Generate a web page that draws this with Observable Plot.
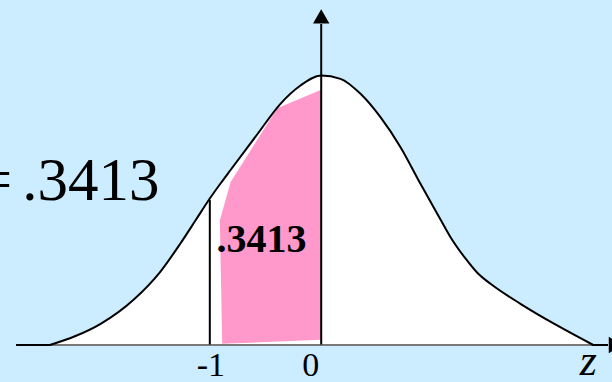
<!DOCTYPE html>
<html><head><meta charset="utf-8">
<script src="https://cdn.jsdelivr.net/npm/d3@7"></script>
<script src="https://cdn.jsdelivr.net/npm/@observablehq/plot@0.6"></script>
<style>html,body{margin:0;padding:0;background:#CCECFF;overflow:hidden}</style>
</head><body><div id="chart"></div>
<script>
// Bell curve (z units, density)
const curveZ = [-2.436, -2.206, -1.980, -1.682, -1.443, -1.264, -1.129, -1.000, -0.904, -0.814, -0.575, -0.366, -0.186, 0.000, 0.173, 0.353, 0.532, 0.712, 0.891, 1.071, 1.161, 1.295, 1.403, 1.520, 1.789, 2.118, 2.442];
const curveDensity = [0.0000, 0.0133, 0.0314, 0.0674, 0.1088, 0.1503, 0.1843, 0.2169, 0.2391, 0.2591, 0.3117, 0.3571, 0.3842, 0.3990, 0.3941, 0.3719, 0.3373, 0.2929, 0.2387, 0.1858, 0.1596, 0.1281, 0.1066, 0.0906, 0.0610, 0.0289, 0.0000];
// Pink shaded region between z = -1 and z = 0
const shadeZ = [0.000, -0.395, -0.814, -0.910, -0.889, 0.000];
const shadeDensity = [0.3779, 0.3506, 0.2410, 0.1843, 0.0018, 0.0077];
// Axis extents and markers
const axisStartZ = -2.735;
const axisEndZ = 2.579;
const markerZ = -1;
const markerTop = 0.214;
const verticalAxisTop = 0.4745;
const tickValues = [-1, 0];
const tickLabels = ["-1", "0"];
const probabilityText = ".3413";
const equalsText = "=";
const axisLabel = "z";

const curve = curveZ.map((z, i) => ({z, d: curveDensity[i]}));
const shade = shadeZ.map((z, i) => ({z, d: shadeDensity[i]}));
const arrowHeads = [
  {z: 0, d: 0.4831, rotate: 0},
  {z: 2.624, d: 0, rotate: 90}
];
const font = "'Liberation Serif', 'Times New Roman', serif";

const chart = Plot.plot({
  width: 612,
  height: 382,
  margin: 0,
  x: {domain: [-2.879, 2.615], axis: null},
  y: {domain: [-0.05552, 0.51007], axis: null},
  style: {background: "#CCECFF", overflow: "visible"},
  marks: [
    Plot.areaY(curve, {x: "z", y: "d", fill: "white", curve: "monotone-x"}),
    Plot.line(shade, {x: "z", y: "d", fill: "#FF99CC", stroke: "none"}),
    Plot.ruleY([0], {x1: curveZ[0], x2: curveZ[curveZ.length - 1], stroke: "#7a7a7a", strokeWidth: 2}),
    Plot.ruleY([0], {x1: axisStartZ, x2: curveZ[0], stroke: "black", strokeWidth: 2}),
    Plot.ruleY([0], {x1: curveZ[curveZ.length - 1], x2: axisEndZ, stroke: "black", strokeWidth: 2}),
    Plot.line(curve, {x: "z", y: "d", stroke: "black", strokeWidth: 2, curve: "monotone-x"}),
    Plot.ruleX([markerZ], {y1: 0, y2: markerTop, stroke: "black", strokeWidth: 2}),
    Plot.ruleX([0], {y1: 0, y2: verticalAxisTop, stroke: "black", strokeWidth: 2}),
    Plot.dot(arrowHeads, {x: "z", y: "d", rotate: "rotate", symbol: "triangle", r: 6.1, fill: "black", stroke: "none"}),
    Plot.text([probabilityText], {x: -0.536, y: 0.137, text: d => d, fontSize: 40, fontWeight: "bold", fontFamily: font, textAnchor: "middle", lineAnchor: "bottom", fill: "black"}),
    Plot.text([probabilityText], {x: -1.452, y: 0.214, text: d => d, fontSize: 61, fontFamily: font, textAnchor: "end", lineAnchor: "bottom", fill: "black"}),
    Plot.text([equalsText], {x: -2.775, y: 0.214, text: d => d, fontSize: 61, fontFamily: font, textAnchor: "end", lineAnchor: "bottom", fill: "black"}),
    Plot.text([tickValues[0]], {x: d => d, y: 0, text: [tickLabels[0]], fontSize: 34, fontFamily: font, textAnchor: "middle", lineAnchor: "bottom", dy: 30.5, dx: 1, fill: "black"}),
    Plot.text([tickValues[1]], {x: d => d, y: 0, text: [tickLabels[1]], fontSize: 34, fontFamily: font, textAnchor: "middle", lineAnchor: "bottom", dy: 30.5, dx: -10.5, fill: "black"}),
    Plot.text([axisLabel], {x: curveZ[curveZ.length - 1], y: 0, text: d => d, fontSize: 44, fontStyle: "italic", fontFamily: font, textAnchor: "middle", lineAnchor: "bottom", dy: 30, dx: -5, fill: "black"})
  ]
});
document.getElementById("chart").appendChild(chart);
</script>
</body></html>
